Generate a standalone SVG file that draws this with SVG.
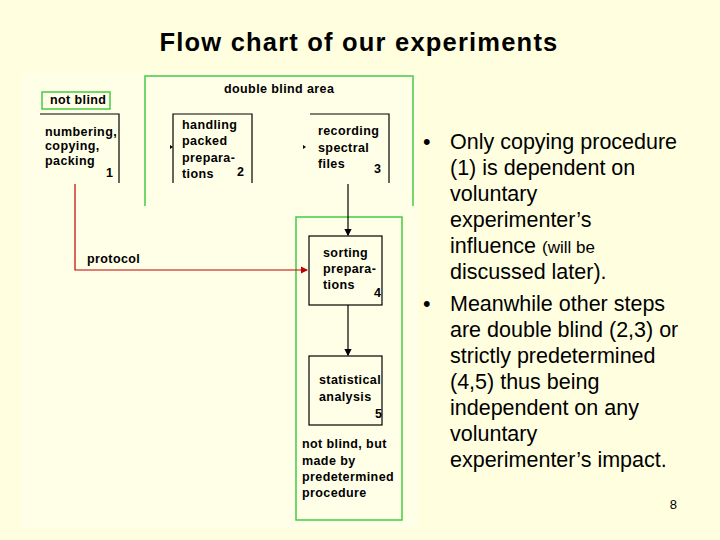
<svg xmlns="http://www.w3.org/2000/svg" width="720" height="540" viewBox="0 0 720 540">
<style>
.t{font-family:"Liberation Sans",Arial,sans-serif;fill:#000}
.d{font-family:"Liberation Sans",Arial,sans-serif;font-weight:bold;font-size:12.5px;fill:#000;letter-spacing:0.4px}
.b{fill:none;stroke:#000;stroke-width:1.2}
.g{fill:none;stroke:#44cc44;stroke-width:1.5}
.r{font-family:"Liberation Sans",Arial,sans-serif;font-size:21.5px;fill:#000}
</style>
<defs>
<marker id="a" markerWidth="6" markerHeight="6" refX="5" refY="3" orient="auto"><path d="M0,0L6,3L0,6z" fill="#000"/></marker>
<marker id="ar" markerWidth="6" markerHeight="6" refX="5" refY="3" orient="auto"><path d="M0,0L6,3L0,6z" fill="#c00000"/></marker>
</defs>
<rect width="720" height="540" fill="#ffffe0"/>
<rect x="22" y="72" width="396" height="456" fill="#ffffe8"/>
<text class="t" x="359" y="51" font-size="25.5" font-weight="bold" text-anchor="middle" letter-spacing="1.2">Flow chart of our experiments</text>
<g id="areas">
<path class="g" d="M145,206V76H413V206"/>
<rect class="g" x="296" y="217" width="106" height="303"/>
<rect class="g" x="42" y="92" width="68" height="17"/>
<text class="d" x="224" y="93">double blind area</text>
</g>
<g id="n0"><text class="d" x="50" y="104">not blind</text></g>
<g id="n1"><path class="b" d="M40,114H119V183"/><text class="d" x="45" y="136">numbering,</text><text class="d" x="45" y="150">copying,</text><text class="d" x="45" y="165">packing</text><text class="d" x="106" y="177">1</text></g>
<g id="n2"><path class="b" d="M173,183V114H252V183"/><text class="d" x="182" y="129">handling</text><text class="d" x="182" y="145">packed</text><text class="d" x="182" y="162">prepara-</text><text class="d" x="182" y="178">tions</text><text class="d" x="237" y="176">2</text></g>
<g id="n3"><path class="b" d="M310,114H389V183"/><text class="d" x="318" y="135">recording</text><text class="d" x="318" y="152">spectral</text><text class="d" x="318" y="168">files</text><text class="d" x="374" y="173">3</text></g>
<g id="n4"><rect class="b" x="309" y="236" width="73" height="69"/><text class="d" x="323" y="257">sorting</text><text class="d" x="323" y="273">prepara-</text><text class="d" x="323" y="289">tions</text><text class="d" x="374" y="297">4</text></g>
<g id="n5"><rect class="b" x="309" y="356" width="73" height="69"/><text class="d" x="319" y="384">statistical</text><text class="d" x="319" y="401">analysis</text><text class="d" x="375" y="418">5</text></g>
<g id="n6"><text class="d" x="302" y="448">not blind, but</text><text class="d" x="302" y="465">made by</text><text class="d" x="302" y="481">predetermined</text><text class="d" x="302" y="497">procedure</text></g>
<g id="n7"><text class="d" x="87" y="263">protocol</text></g>
<g id="connectors">
<path d="M348,184V235" stroke="#000" stroke-width="1.2" fill="none" marker-end="url(#a)"/>
<path d="M348,305V355" stroke="#000" stroke-width="1.2" fill="none" marker-end="url(#a)"/>
<path d="M75,184V270H307" stroke="#c00000" stroke-width="1.2" fill="none" marker-end="url(#ar)"/>
<path d="M170,145V149L173,147z" fill="#000"/>
<path d="M303,145V149L306,147z" fill="#000"/>
</g>
<g id="bullets">
<text class="r" x="423" y="149">•</text>
<text class="r" x="450" y="149">Only copying procedure</text>
<text class="r" x="450" y="175">(1) is dependent on</text>
<text class="r" x="450" y="201">voluntary</text>
<text class="r" x="450" y="227">experimenter’s</text>
<text class="r" x="450" y="253">influence <tspan font-size="17">(will be</tspan></text>
<text class="r" x="450" y="279" font-size="17">discussed later).</text>
<text class="r" x="423" y="311">•</text>
<text class="r" x="450" y="311">Meanwhile other steps</text>
<text class="r" x="450" y="337">are double blind (2,3) or</text>
<text class="r" x="450" y="363">strictly predetermined</text>
<text class="r" x="450" y="389">(4,5) thus being</text>
<text class="r" x="450" y="415">independent on any</text>
<text class="r" x="450" y="441">voluntary</text>
<text class="r" x="450" y="467">experimenter’s impact.</text>
<text class="t" x="677" y="509" font-size="13" text-anchor="end">8</text>
</g>
</svg>
